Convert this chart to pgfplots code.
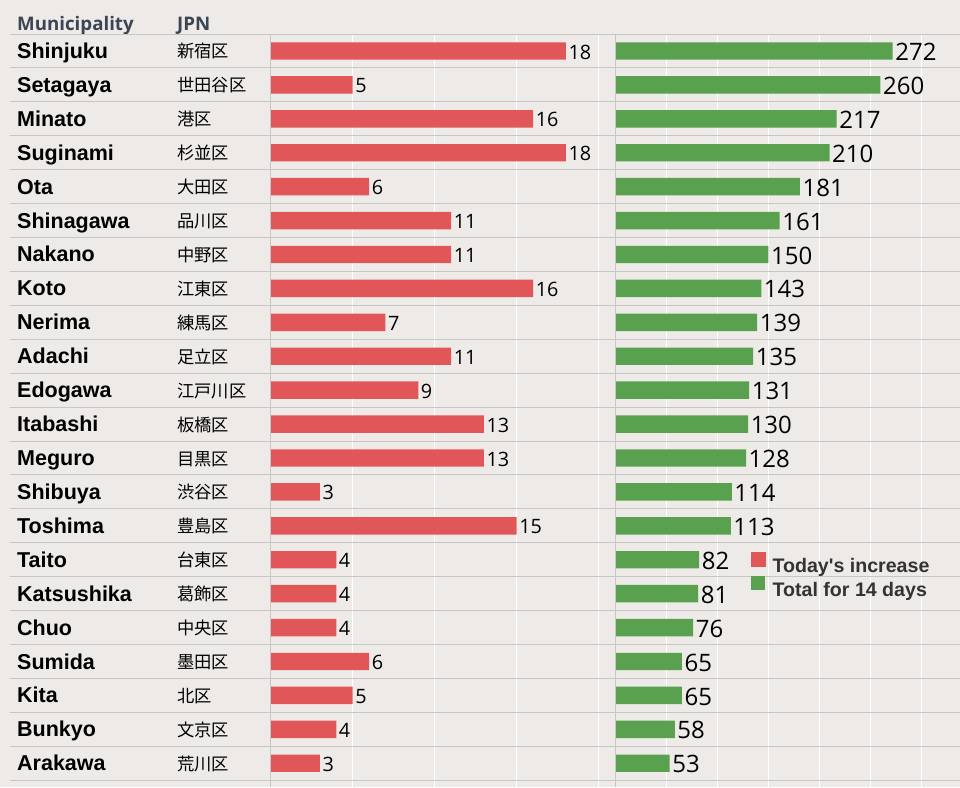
\documentclass[border=0pt]{standalone}
\usepackage{pgfplots}
\pgfplotsset{compat=1.18}
\usepackage{fontspec}
\setmainfont{Liberation Sans}
\newfontfamily\jpfont{Noto Sans CJK JP}
\newfontfamily\numfont{Open Sans}
\definecolor{bg}{HTML}{EEEAE7}
\definecolor{tred}{HTML}{E15759}
\definecolor{tgreen}{HTML}{59A14F}
\definecolor{sep}{HTML}{C6C6C6}
\definecolor{head}{HTML}{3B4654}
\definecolor{legtext}{HTML}{333333}
\pgfplotsset{
  rows/.style={
    anchor=north west, scale only axis, height=753pt,
    ymin=-0.5, ymax=21.7, y dir=reverse,
    axis line style={draw=none}, tick style={draw=none},
    ytick={-0.5,0.5,...,21.5}, yticklabels={},
    ymajorgrids, y grid style={sep, line width=1pt},
    clip=false,
    /pgf/number format/assume math mode=true,
  },
}
\tikzset{
  nm/.style={anchor=base west, inner sep=0pt, font=\bfseries\fontsize{21.5}{22}\selectfont, text=black},
  jp/.style={anchor=base west, inner sep=0pt, font=\jpfont\fontsize{17.3}{18}\selectfont, text=black},
}
\begin{document}
\begin{tikzpicture}[x=1pt,y=1pt]
\fill[bg] (0,0) rectangle (960,-787);
\node[anchor=base west, inner sep=0pt, text=head, font=\numfont\bfseries\fontsize{18.7}{20}\selectfont] at (17,-30) {Municipality};
\node[anchor=base west, inner sep=0pt, text=head, font=\numfont\bfseries\fontsize{18.7}{20}\selectfont] at (177,-30) {JPN};

% names column
\begin{axis}[rows, at={(10pt,-34pt)}, width=260pt, xmin=0, xmax=260, xtick=\empty]
\addplot[draw=none] coordinates {(0,0)};
\node[nm, yshift=-7.5pt] at (axis cs:7,0) {Shinjuku};
\node[nm, yshift=-7.5pt] at (axis cs:7,1) {Setagaya};
\node[nm, yshift=-7.5pt] at (axis cs:7,2) {Minato};
\node[nm, yshift=-7.5pt] at (axis cs:7,3) {Suginami};
\node[nm, yshift=-7.5pt] at (axis cs:7,4) {Ota};
\node[nm, yshift=-7.5pt] at (axis cs:7,5) {Shinagawa};
\node[nm, yshift=-7.5pt] at (axis cs:7,6) {Nakano};
\node[nm, yshift=-7.5pt] at (axis cs:7,7) {Koto};
\node[nm, yshift=-7.5pt] at (axis cs:7,8) {Nerima};
\node[nm, yshift=-7.5pt] at (axis cs:7,9) {Adachi};
\node[nm, yshift=-7.5pt] at (axis cs:7,10) {Edogawa};
\node[nm, yshift=-7.5pt] at (axis cs:7,11) {Itabashi};
\node[nm, yshift=-7.5pt] at (axis cs:7,12) {Meguro};
\node[nm, yshift=-7.5pt] at (axis cs:7,13) {Shibuya};
\node[nm, yshift=-7.5pt] at (axis cs:7,14) {Toshima};
\node[nm, yshift=-7.5pt] at (axis cs:7,15) {Taito};
\node[nm, yshift=-7.5pt] at (axis cs:7,16) {Katsushika};
\node[nm, yshift=-7.5pt] at (axis cs:7,17) {Chuo};
\node[nm, yshift=-7.5pt] at (axis cs:7,18) {Sumida};
\node[nm, yshift=-7.5pt] at (axis cs:7,19) {Kita};
\node[nm, yshift=-7.5pt] at (axis cs:7,20) {Bunkyo};
\node[nm, yshift=-7.5pt] at (axis cs:7,21) {Arakawa};
\node[jp, yshift=-7pt] at (axis cs:167,0) {新宿区};
\node[jp, yshift=-7pt] at (axis cs:167,1) {世田谷区};
\node[jp, yshift=-7pt] at (axis cs:167,2) {港区};
\node[jp, yshift=-7pt] at (axis cs:167,3) {杉並区};
\node[jp, yshift=-7pt] at (axis cs:167,4) {大田区};
\node[jp, yshift=-7pt] at (axis cs:167,5) {品川区};
\node[jp, yshift=-7pt] at (axis cs:167,6) {中野区};
\node[jp, yshift=-7pt] at (axis cs:167,7) {江東区};
\node[jp, yshift=-7pt] at (axis cs:167,8) {練馬区};
\node[jp, yshift=-7pt] at (axis cs:167,9) {足立区};
\node[jp, yshift=-7pt] at (axis cs:167,10) {江戸川区};
\node[jp, yshift=-7pt] at (axis cs:167,11) {板橋区};
\node[jp, yshift=-7pt] at (axis cs:167,12) {目黒区};
\node[jp, yshift=-7pt] at (axis cs:167,13) {渋谷区};
\node[jp, yshift=-7pt] at (axis cs:167,14) {豊島区};
\node[jp, yshift=-7pt] at (axis cs:167,15) {台東区};
\node[jp, yshift=-7pt] at (axis cs:167,16) {葛飾区};
\node[jp, yshift=-7pt] at (axis cs:167,17) {中央区};
\node[jp, yshift=-7pt] at (axis cs:167,18) {墨田区};
\node[jp, yshift=-7pt] at (axis cs:167,19) {北区};
\node[jp, yshift=-7pt] at (axis cs:167,20) {文京区};
\node[jp, yshift=-7pt] at (axis cs:167,21) {荒川区};
\end{axis}

% today's increase
\begin{axis}[rows, at={(270.7pt,-34pt)}, width=345pt, xmin=0, xmax=21.04,
  xtick={5,10,15,20}, xticklabels={}, xmajorgrids, x grid style={white, line width=1.2pt},
  xbar, bar width=17.4pt,
  nodes near coords, point meta=x,
  nodes near coords style={font=\numfont\fontsize{19.8}{20}\selectfont, text=black, anchor=west, inner sep=2.5pt, yshift=-1pt},
]
\addplot[fill=tred, draw=none] coordinates {
(18,0) (5,1) (16,2) (18,3) (6,4) (11,5) (11,6) (16,7) (7,8) (11,9) (9,10)
(13,11) (13,12) (3,13) (15,14) (4,15) (4,16) (4,17) (6,18) (5,19) (4,20) (3,21)};
\draw[sep, line width=1pt] (rel axis cs:0,0) -- (rel axis cs:0,1);
\end{axis}

% total for 14 days
\begin{axis}[rows, at={(615.7pt,-34pt)}, width=344.3pt, xmin=0, xmax=338.2,
  xtick={50,100,...,300}, xticklabels={}, xmajorgrids, x grid style={white, line width=1.2pt},
  xbar, bar width=17.4pt,
  nodes near coords, point meta=x,
  nodes near coords style={font=\numfont\fontsize{24}{24}\selectfont, text=black, anchor=west, inner sep=2.5pt, yshift=-1pt},
  legend style={at={(axis description cs:0.393,0.312)}, anchor=north west, draw=none, fill=none,
    font=\bfseries\fontsize{19.6}{20}\selectfont, text=legtext, inner sep=0pt,
    nodes={inner sep=0pt}, column sep=7pt, row sep=1.5pt},
  legend cell align=left,
]
\addlegendimage{legend image code/.code={\fill[tred] (0pt,0pt) rectangle (14pt,14pt);}}
\addplot[fill=tgreen, draw=none, legend image code/.code={\fill[tgreen] (0pt,0pt) rectangle (14pt,14pt);}] coordinates {
(272,0) (260,1) (217,2) (210,3) (181,4) (161,5) (150,6) (143,7) (139,8) (135,9) (131,10)
(130,11) (128,12) (114,13) (113,14) (82,15) (81,16) (76,17) (65,18) (65,19) (58,20) (53,21)};
\legend{Today\textquotesingle s increase, Total for 14 days}
\draw[sep, line width=1pt] (rel axis cs:0,0) -- (rel axis cs:0,1);
\end{axis}
\pgfresetboundingbox
\path[use as bounding box] (0,0) rectangle (960,-787);
\end{tikzpicture}
\end{document}
